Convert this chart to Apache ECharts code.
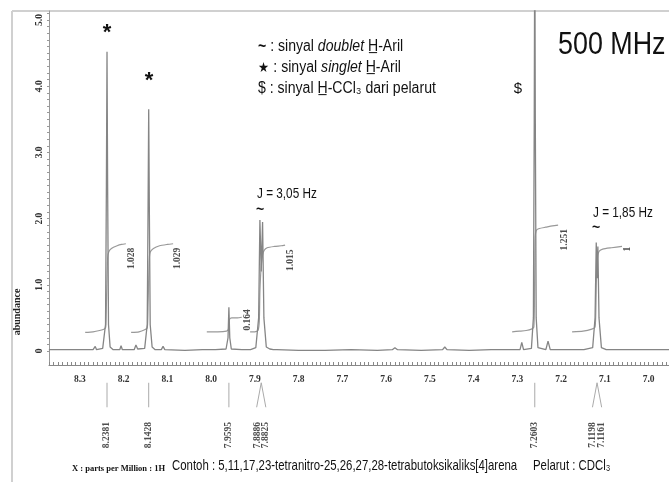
<!DOCTYPE html>
<html>
<head>
<meta charset="utf-8">
<script src="https://cdn.jsdelivr.net/npm/echarts@6/dist/echarts.min.js"></script>
<style>
  html, body { margin: 0; padding: 0; background: #fff; }
  #chart { width: 669px; height: 482px; }
</style>
</head>
<body>
<div id="chart"></div>
<script>
// tick labels
const xTickLabels = [8.3, 8.2, 8.1, 8.0, 7.9, 7.8, 7.7, 7.6, 7.5, 7.4, 7.3, 7.2, 7.1, 7.0]
const yTickLabels = [0, 1, 2, 3, 4, 5]

// spectrum trace [ppm, abundance]
const spectrum = [
  [8.371, 0.02], [8.33, 0.02], [8.30, 0.02], [8.27, 0.02],
  [8.268, 0.02], [8.265, 0.07], [8.262, 0.02],
  [8.248, 0.04], [8.2415, 0.4], [8.2395, 2.5], [8.2381, 4.52], [8.2367, 2.5], [8.2347, 0.4], [8.231, 0.06], [8.224, 0.02],
  [8.209, 0.02], [8.206, 0.08], [8.203, 0.02],
  [8.176, 0.02], [8.172, 0.09], [8.168, 0.03],
  [8.152, 0.04], [8.1462, 0.4], [8.1442, 2.2], [8.1428, 3.65], [8.1414, 2.2], [8.1394, 0.4], [8.135, 0.06], [8.128, 0.02],
  [8.114, 0.02], [8.110, 0.07], [8.106, 0.02],
  [8.06, 0.01], [8.02, 0.02], [7.99, 0.02],
  [7.966, 0.03], [7.9615, 0.2], [7.9595, 0.66], [7.9575, 0.2], [7.954, 0.03],
  [7.93, 0.02], [7.918, 0.02], [7.914, 0.04], [7.910, 0.02],
  [7.898, 0.05], [7.8915, 0.5], [7.8886, 1.98], [7.8856, 1.2], [7.8825, 1.95], [7.8795, 0.5], [7.874, 0.06], [7.866, 0.03],
  [7.858, 0.02], [7.854, 0.03], [7.850, 0.02],
  [7.80, 0.01], [7.74, 0.01], [7.68, 0.02], [7.62, 0.01],
  [7.586, 0.02], [7.580, 0.05], [7.574, 0.02],
  [7.52, 0.01], [7.471, 0.02], [7.466, 0.06], [7.461, 0.02],
  [7.41, 0.01], [7.36, 0.02], [7.30, 0.02],
  [7.294, 0.02], [7.290, 0.13], [7.286, 0.02],
  [7.268, 0.04], [7.2635, 0.5], [7.2615, 3.5], [7.2603, 6.5], [7.2591, 3.5], [7.2571, 0.5], [7.253, 0.05],
  [7.235, 0.02], [7.230, 0.15], [7.225, 0.02],
  [7.19, 0.02], [7.156, 0.02], [7.152, 0.04], [7.148, 0.02],
  [7.128, 0.05], [7.1225, 0.5], [7.1198, 1.64], [7.118, 1.1], [7.1161, 1.58], [7.1135, 0.5], [7.108, 0.05],
  [7.097, 0.02], [7.093, 0.04], [7.089, 0.02],
  [7.05, 0.02], [7.00, 0.02], [6.953, 0.02]
]

// integral curves
const integral1 = [[8.288, 0.28], [8.270, 0.29], [8.255, 0.31], [8.245, 0.33], [8.241, 0.36], [8.2395, 0.7], [8.2381, 1.1], [8.2365, 1.42], [8.234, 1.5], [8.228, 1.55], [8.215, 1.59], [8.205, 1.61], [8.195, 1.62]]
const integral2 = [[8.183, 0.28], [8.165, 0.29], [8.152, 0.32], [8.146, 0.35], [8.1442, 0.7], [8.1428, 1.1], [8.1412, 1.42], [8.139, 1.5], [8.132, 1.55], [8.118, 1.59], [8.10, 1.61], [8.087, 1.62]]
const integral3 = [[8.010, 0.29], [7.985, 0.29], [7.965, 0.30], [7.9605, 0.33], [7.9595, 0.42], [7.958, 0.48], [7.953, 0.50], [7.940, 0.50], [7.930, 0.51]]
const integral4 = [[7.911, 0.29], [7.900, 0.29], [7.893, 0.31], [7.890, 0.45], [7.8886, 0.9], [7.8855, 1.3], [7.8825, 1.45], [7.879, 1.52], [7.872, 1.56], [7.855, 1.58], [7.840, 1.59], [7.831, 1.60]]
const integral5 = [[7.312, 0.29], [7.295, 0.30], [7.280, 0.31], [7.268, 0.33], [7.2625, 0.36], [7.2610, 0.8], [7.2603, 1.3], [7.2595, 1.7], [7.257, 1.82], [7.250, 1.85], [7.235, 1.87], [7.220, 1.89], [7.207, 1.90]]
const integral6 = [[7.175, 0.29], [7.150, 0.30], [7.130, 0.33], [7.1225, 0.36], [7.1205, 0.7], [7.1198, 1.0], [7.118, 1.3], [7.1161, 1.45], [7.113, 1.51], [7.105, 1.54], [7.085, 1.56], [7.061, 1.58]]
const integrals = [integral1, integral2, integral3, integral4, integral5, integral6]

// integral values [ppm, abundance, text]
const integralLabels = [
  [8.183, 1.40, '1.028'], [8.078, 1.40, '1.029'], [7.916, 0.47, '0.164'],
  [7.818, 1.37, '1.015'], [7.193, 1.68, '1.251'], [7.049, 1.54, '1']
]

// picked peaks (ppm), doublets grouped
const peakGroups = [[8.2381], [8.1428], [7.9595], [7.8886, 7.8825], [7.2603], [7.1198, 7.1161]]

const pickTop = -0.48
const pickBottom = -0.85
const pickText = -1.27
const pickSpread = 0.0105

const pickLines = peakGroups.map(g => {
  if (g.length === 1) return [[g[0], pickTop], [g[0], pickBottom]]
  const c = (g[0] + g[1]) / 2
  return [[c + pickSpread, pickBottom], [c, pickTop], [c - pickSpread, pickBottom]]
})
const pickTexts = []
peakGroups.forEach(g => {
  if (g.length === 1) pickTexts.push([g[0], pickText, g[0].toFixed(4)])
  else {
    const c = (g[0] + g[1]) / 2
    pickTexts.push([c + pickSpread * 0.9, pickText, g[0].toFixed(4)])
    pickTexts.push([c - pickSpread * 0.9, pickText, g[1].toFixed(4)])
  }
})

const xMinor = []
for (let i = 696; i <= 837; i++) xMinor.push(i / 100)
const yMinor = []
for (let i = 0; i <= 51; i++) yMinor.push(i / 10)

const serif = 'Liberation Serif, DejaVu Serif, serif'
const sans = 'Liberation Sans, Arial, sans-serif'
const grayLine = '#858585'

const smallLabel = {
  show: true,
  position: 'inside',
  rotate: 90,
  fontFamily: serif,
  fontWeight: 'bold',
  fontSize: 9.5,
  color: '#222',
  formatter: p => p.data[2]
}

const chart = echarts.init(document.getElementById('chart'))

const option = {
  animation: false,
  grid: { left: 49, right: 0, top: 11, bottom: 117 },
  xAxis: {
    type: 'value',
    inverse: true,
    min: 6.9535,
    max: 8.3707,
    axisLine: { onZero: false, lineStyle: { color: '#888', width: 1 } },
    axisTick: { inside: true, length: 3, customValues: xMinor, lineStyle: { color: '#888' } },
    axisLabel: {
      customValues: xTickLabels,
      formatter: v => v.toFixed(1),
      margin: 10,
      fontFamily: serif,
      fontWeight: 'bold',
      fontSize: 9.5,
      color: '#333'
    },
    splitLine: { show: false }
  },
  yAxis: {
    type: 'value',
    min: -0.2115,
    max: 5.136,
    axisLine: { show: true, onZero: false, lineStyle: { color: '#999', width: 1 } },
    axisTick: { show: true, length: 2, customValues: yMinor, lineStyle: { color: '#999' } },
    axisLabel: {
      customValues: yTickLabels,
      formatter: v => (v === 0 ? '0' : v.toFixed(1)),
      rotate: 90,
      margin: 4,
      fontFamily: serif,
      fontWeight: 'bold',
      fontSize: 9.5,
      color: '#333'
    },
    splitLine: { show: false }
  },
  series: [
    {
      type: 'line',
      data: spectrum,
      showSymbol: false,
      lineStyle: { color: grayLine, width: 1.3 },
      z: 3
    },
    ...integrals.map(d => ({
      type: 'line',
      data: d,
      showSymbol: false,
      smooth: 0.2,
      lineStyle: { color: '#999', width: 1.2 },
      z: 2
    })),
    ...pickLines.map(d => ({
      type: 'line',
      data: d,
      showSymbol: false,
      clip: false,
      lineStyle: { color: '#aaa', width: 1 }
    })),
    {
      type: 'scatter',
      data: integralLabels,
      symbolSize: 1,
      itemStyle: { color: 'rgba(0,0,0,0)' },
      label: smallLabel,
      z: 5
    },
    {
      type: 'scatter',
      data: pickTexts,
      clip: false,
      symbolSize: 1,
      itemStyle: { color: 'rgba(0,0,0,0)' },
      label: smallLabel,
      z: 5
    }
  ],
  graphic: [
    { type: 'line', shape: { x1: 12, y1: 11, x2: 669, y2: 11 }, style: { stroke: '#d0d0d0', lineWidth: 2 } },
    { type: 'line', shape: { x1: 12, y1: 11, x2: 12, y2: 482 }, style: { stroke: '#d0d0d0', lineWidth: 2 } },
    {
      type: 'text', x: 17, y: 312, rotation: Math.PI / 2,
      style: { text: 'abundance', font: 'bold 10px ' + serif, fill: '#222', align: 'center', verticalAlign: 'middle' }
    },
    // peak markers
    { type: 'text', x: 107, y: 33, style: { text: '*', font: 'bold 22px ' + sans, fill: '#111', align: 'center', verticalAlign: 'middle' } },
    { type: 'text', x: 149, y: 81, style: { text: '*', font: 'bold 22px ' + sans, fill: '#111', align: 'center', verticalAlign: 'middle' } },
    { type: 'text', x: 518, y: 89, style: { text: '$', font: '15px ' + sans, fill: '#111', align: 'center', verticalAlign: 'middle' } },
    { type: 'text', x: 260, y: 210, style: { text: '~', font: 'bold 14px ' + sans, fill: '#111', align: 'center', verticalAlign: 'middle' } },
    { type: 'text', x: 596, y: 228, style: { text: '~', font: 'bold 14px ' + sans, fill: '#111', align: 'center', verticalAlign: 'middle' } },
    { type: 'text', x: 257, y: 194, scaleX: 0.84, style: { text: 'J = 3,05 Hz', font: '14px ' + sans, fill: '#111', verticalAlign: 'middle' } },
    { type: 'text', x: 593, y: 213, scaleX: 0.84, style: { text: 'J = 1,85 Hz', font: '14px ' + sans, fill: '#111', verticalAlign: 'middle' } },
    // legend
    {
      type: 'text', x: 258, y: 47, scaleX: 0.88,
      style: {
        text: '{b|~} : sinyal {i|doublet} H\u0332-Aril',
        font: '16px ' + sans, fill: '#111', verticalAlign: 'middle',
        rich: { i: { fontStyle: 'italic', fontSize: 16, fontFamily: sans }, b: { fontWeight: 'bold', fontSize: 16, fontFamily: sans } }
      }
    },
    {
      type: 'text', x: 258, y: 68, scaleX: 0.88,
      style: {
        text: '{b|\u2605} : sinyal {i|singlet} H\u0332-Aril',
        font: '16px ' + sans, fill: '#111', verticalAlign: 'middle',
        rich: { i: { fontStyle: 'italic', fontSize: 16, fontFamily: sans }, b: { fontSize: 14, fontFamily: sans } }
      }
    },
    {
      type: 'text', x: 258, y: 89, scaleX: 0.88,
      style: { text: '$ : sinyal H\u0332-CCl\u2083 dari pelarut', font: '16px ' + sans, fill: '#111', verticalAlign: 'middle' }
    },
    { type: 'text', x: 558, y: 45, scaleX: 0.84, style: { text: '500 MHz', font: '32px ' + sans, fill: '#111', verticalAlign: 'middle' } },
    // footer
    {
      type: 'text', x: 72, y: 469,
      style: { text: 'X : parts per Million : 1H', font: 'bold 8.5px ' + serif, fill: '#111', verticalAlign: 'middle' }
    },
    {
      type: 'text', x: 172, y: 466, scaleX: 0.76,
      style: { text: 'Contoh : 5,11,17,23-tetranitro-25,26,27,28-tetrabutoksikaliks[4]arena', font: '15px ' + sans, fill: '#111', verticalAlign: 'middle' }
    },
    {
      type: 'text', x: 533, y: 466, scaleX: 0.76,
      style: { text: 'Pelarut : CDCl\u2083', font: '15px ' + sans, fill: '#111', verticalAlign: 'middle' }
    }
  ]
}

chart.setOption(option)
</script>
</body>
</html>
